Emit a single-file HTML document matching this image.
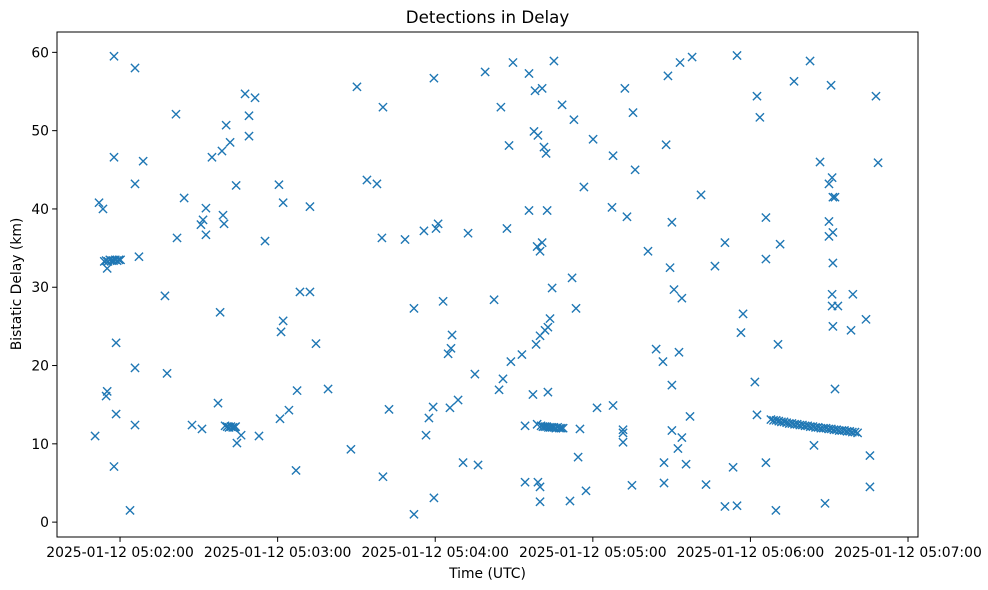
<!DOCTYPE html>
<html><head><meta charset="utf-8"><title>Detections in Delay</title>
<style>
html,body{margin:0;padding:0;background:#fff;}
svg{display:block;font-family:"DejaVu Sans","Liberation Sans",sans-serif;}
</style></head>
<body>
<svg id="chart" width="988" height="590" viewBox="0 0 988 590" xmlns="http://www.w3.org/2000/svg">
<rect x="0" y="0" width="988" height="590" fill="#fff"/>
<text x="487.5" y="23" font-size="16.7" text-anchor="middle" fill="#000">Detections in Delay</text>
<g id="plot"></g>
<g id="xticks"></g>
<g id="yticks"></g>
<rect x="57" y="32" width="861" height="505" fill="none" stroke="#000" stroke-width="1"/>
<text x="487.5" y="578" font-size="13.9" text-anchor="middle" fill="#000">Time (UTC)</text>
<text x="0" y="0" font-size="13.9" text-anchor="middle" fill="#000" transform="translate(21,284) rotate(-90)">Bistatic Delay (km)</text>
</svg>
<script>
// times: seconds after 05:01:00 UTC; delays in km
const timesA=[50.5,52.0,53.5,54.7,55.1,55.1,57.7,57.7,57.7,58.5,58.5,63.8,65.7,65.7,65.7,65.7,67.2,68.8];
const delaysA=[11.0,40.8,40.0,16.1,16.7,32.4,59.5,46.6,7.1,22.9,13.8,1.5,58.0,43.2,19.7,12.4,33.9,46.1];
const timesCluster1=[54.0,54.7,55.4,56.1,56.8,57.5,58.2,58.9,59.6,60.2];
const delaysCluster1=[33.3,33.4,33.3,33.5,33.4,33.4,33.5,33.4,33.5,33.5];
const timesB=[77.1,77.9,81.3,81.7,84.4,87.4,90.8,91.2,91.6,92.7,92.7,95.0,97.3,98.1,98.8,99.2,99.6,100.0,100.4,101.9,104.2,104.5,106.1,107.6,109.1,109.1,111.4,112.9,115.2];
const delaysB=[28.9,19.0,52.1,36.3,41.4,12.4,38.0,11.9,38.6,40.1,36.7,46.6,15.2,26.8,47.4,39.2,38.1,12.3,50.7,48.5,43.0,10.1,11.1,54.7,51.9,49.3,54.2,11.0,35.9];
const timesCluster2=[100.8,101.5,102.2,102.9,103.6,104.0];
const delaysCluster2=[12.2,12.1,12.2,12.1,12.1,12.2];
const timesC=[120.5,120.9,121.3,122.1,122.1,124.3,127.0,127.4,128.5,132.3,132.3,134.6,139.2,147.9,150.2,154.0,157.8,159.7,160.1,160.1,162.4,168.5,171.9,171.9,175.7,176.5,177.6,179.2,179.5,179.5,180.3,181.1,183.0,184.9,185.6,186.0,186.4,188.7,190.6,192.5,195.1,196.3,199.0];
const delaysC=[43.1,13.2,24.3,40.8,25.7,14.3,6.6,16.8,29.4,29.4,40.3,22.8,17.0,9.3,55.6,43.7,43.2,36.3,53.0,5.8,14.4,36.1,27.3,1.0,37.2,11.1,13.3,14.7,56.7,3.1,37.5,38.1,28.2,21.5,14.6,22.2,23.9,15.6,7.6,36.9,18.9,7.3,57.5];
const timesD=[202.4,204.3,205.0,205.8,207.3,208.1,208.8,209.6,213.0,214.2,214.2,215.7,215.7,217.2,217.6,218.0,218.4,218.8,218.8,219.1,219.1,219.9,219.9,219.9,219.9,220.7,220.7,221.4,221.8,222.2,222.6,222.9,222.9,223.7,224.5,225.2];
const delaysD=[28.4,16.9,53.0,18.3,37.5,48.1,20.5,58.7,21.4,12.3,5.1,57.3,39.8,16.3,49.9,55.1,22.7,35.2,12.5,5.1,49.4,4.5,23.8,34.6,2.6,35.7,55.4,47.9,24.5,47.1,39.8,16.6,24.9,26.0,29.9,58.9];
const timesCluster3=[220.3,221.0,221.7,222.4,223.1,223.8,224.5,225.2,225.9,226.6,227.3,228.0,228.7];
const delaysCluster3=[12.3,12.2,12.2,12.2,12.1,12.1,12.1,12.1,12.0,12.1,12.0,12.0,12.0];
const timesE=[228.3,231.3,232.1,232.8,233.6,234.4,235.1,236.6,237.4,240.1,241.6,247.3,247.7,247.7,251.5,251.5,251.5,252.2,253.0,254.9,255.3,256.1,261.0,264.1,266.7,267.1,267.1,267.9,268.6,269.4,270.1,270.1,270.1,270.9,272.4,272.8,273.2,273.9,273.9,275.5,277.0,277.8,281.2,283.1,286.5,290.3,290.3,293.4,294.9,294.9,296.4,297.2];
const delaysE=[53.3,2.7,31.2,51.4,27.3,8.3,11.9,42.8,4.0,48.9,14.6,40.2,46.8,14.9,11.8,11.4,10.2,55.4,39.0,4.7,52.3,45.0,34.6,22.1,20.5,7.6,5.0,48.2,57.0,32.5,38.3,17.5,11.7,29.7,9.4,21.7,58.7,28.6,10.8,7.4,13.5,59.4,41.8,4.8,32.7,35.7,2.0,7.0,59.6,2.1,24.2,26.6];
const timesF=[301.7,302.5,302.5,303.6,305.9,305.9,305.9,309.7,310.5,311.3,316.6,322.7,324.2,326.5,328.4,329.9,329.9,329.9,330.7,331.1,331.4,331.1,331.1,331.4,331.4,331.4,332.2,332.2,333.3,338.3,339.0,344.0,345.5,345.5,347.8,348.6];
const delaysF=[17.9,54.4,13.7,51.7,38.9,7.6,33.6,1.5,22.7,35.5,56.3,58.9,9.8,46.0,2.4,43.2,38.4,36.5,55.8,44.0,41.5,29.1,27.6,37.0,33.1,25.0,17.0,41.5,27.6,24.5,29.1,25.9,8.5,4.5,54.4,45.9];
const timesTrail=[307.8,308.8,309.8,310.8,311.8,312.8,313.8,314.8,315.8,316.8,317.8,318.8,319.8,320.8,321.8,322.8,323.8,324.8,325.8,326.8,327.8,328.8,329.8,330.8,331.8,332.8,333.8,334.8,335.8,336.8,337.8,338.8,339.8,340.8];
const delaysTrail=[13.1,13.0,13.0,12.9,12.8,12.8,12.7,12.6,12.6,12.5,12.5,12.4,12.4,12.3,12.3,12.2,12.2,12.1,12.1,12.0,12.0,12.0,11.9,11.9,11.8,11.8,11.7,11.7,11.7,11.6,11.6,11.5,11.5,11.4];
const xTickTimes=[60,120,180,240,300,360];
const xTickLabels=["2025-01-12 05:02:00","2025-01-12 05:03:00","2025-01-12 05:04:00","2025-01-12 05:05:00","2025-01-12 05:06:00","2025-01-12 05:07:00"];
const yTickValues=[0,10,20,30,40,50,60];

const NS="http://www.w3.org/2000/svg";
const X0=57,X1=918,Y0=537,Y1=32;
const tMin=36.0,tMax=363.8,dMin=-1.9,dMax=62.6;
function xScale(t){return X0+(t-tMin)/(tMax-tMin)*(X1-X0);}
function yScale(d){return Y0-(d-dMin)/(dMax-dMin)*(Y0-Y1);}

const times=[].concat(timesA,timesCluster1,timesB,timesCluster2,timesC,timesD,timesCluster3,timesE,timesF,timesTrail);
const delays=[].concat(delaysA,delaysCluster1,delaysB,delaysCluster2,delaysC,delaysD,delaysCluster3,delaysE,delaysF,delaysTrail);

const plot=document.getElementById('plot');
const r=4.1;
for(let i=0;i<times.length;i++){
  const cx=xScale(times[i]),cy=yScale(delays[i]);
  const p=document.createElementNS(NS,'path');
  p.setAttribute('d',`M${cx-r},${cy-r}L${cx+r},${cy+r}M${cx-r},${cy+r}L${cx+r},${cy-r}`);
  p.setAttribute('stroke','#1f77b4');
  p.setAttribute('stroke-width','1.4');
  p.setAttribute('fill','none');
  
  
  plot.appendChild(p);
}

const xg=document.getElementById('xticks');
for(let i=0;i<xTickTimes.length;i++){
  const x=xScale(xTickTimes[i]);
  const l=document.createElementNS(NS,'line');
  l.setAttribute('x1',x);l.setAttribute('x2',x);l.setAttribute('y1',Y0);l.setAttribute('y2',Y0+4.9);
  l.setAttribute('stroke','#000');l.setAttribute('stroke-width','1');
  
  
  xg.appendChild(l);
  const t=document.createElementNS(NS,'text');
  t.setAttribute('x',x);t.setAttribute('y',557);t.setAttribute('font-size','13.9');t.setAttribute('text-anchor','middle');
  t.textContent=xTickLabels[i];
  
  
  xg.appendChild(t);
}
const yg=document.getElementById('yticks');
for(let i=0;i<yTickValues.length;i++){
  const y=yScale(yTickValues[i]);
  const l=document.createElementNS(NS,'line');
  l.setAttribute('x1',X0-4.9);l.setAttribute('x2',X0);l.setAttribute('y1',y);l.setAttribute('y2',y);
  l.setAttribute('stroke','#000');l.setAttribute('stroke-width','1');
  
  
  yg.appendChild(l);
  const t=document.createElementNS(NS,'text');
  t.setAttribute('x',X0-8);t.setAttribute('y',y+5);t.setAttribute('font-size','13.9');t.setAttribute('text-anchor','end');
  t.textContent=String(yTickValues[i]);
  
  
  yg.appendChild(t);
}
</script>
</body></html>
